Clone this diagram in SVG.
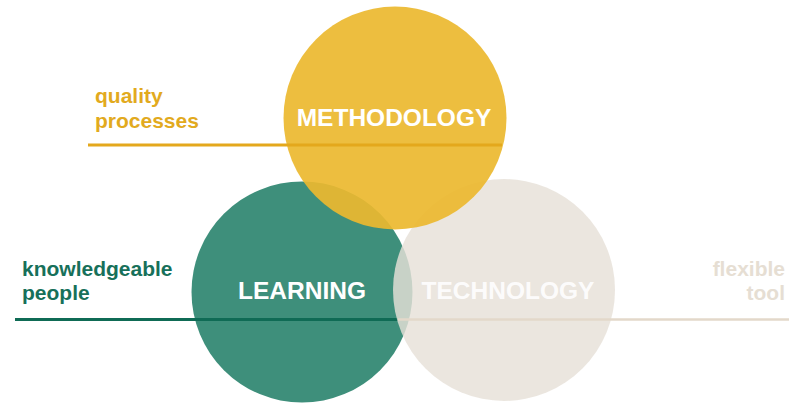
<svg xmlns="http://www.w3.org/2000/svg" width="789" height="403" viewBox="0 0 789 403">
<style>
.lbl{font-family:"Liberation Sans",Arial,sans-serif;font-weight:bold;font-size:21px}
.big{font-family:"Liberation Sans",Arial,sans-serif;font-weight:bold;font-size:24.5px;fill:#ffffff;text-anchor:middle}
</style>
<rect width="789" height="403" fill="#ffffff"/>
<g id="learning">
<circle cx="302" cy="292" r="110.5" fill="#3E8F7B"/>
<text class="big" x="302" y="299">LEARNING</text>
</g>
<g id="connectors">
<line x1="15" y1="319.5" x2="398" y2="319.5" stroke="#0F6B55" stroke-width="3"/>
</g>
<g id="technology">
<circle cx="504" cy="290" r="111" fill="#E6E0D8" fill-opacity="0.82"/>
<text class="big" x="508" y="299" fill-opacity="0.9">TECHNOLOGY</text>
</g>
<g id="connectors2">
<line x1="398" y1="319.5" x2="789" y2="319.5" stroke="#E3D8CA" stroke-width="2.5"/>
</g>
<g id="methodology">
<circle cx="395" cy="118" r="111.5" fill="#EBB92F" fill-opacity="0.92"/>
<line x1="88" y1="145" x2="502" y2="145" stroke="#E4A81C" stroke-width="3"/>
<text class="big" x="394" y="126">METHODOLOGY</text>
</g>
<g id="quality">
<text class="lbl" x="95" y="103" fill="#E2AA1E">quality</text>
<text class="lbl" x="95" y="128" fill="#E2AA1E">processes</text>
</g>
<g id="knowledgeable">
<text class="lbl" x="22" y="276" fill="#17705A">knowledgeable</text>
<text class="lbl" x="22" y="300" fill="#17705A">people</text>
</g>
<g id="flexible">
<text class="lbl" x="785" y="276" fill="#E6DED3" text-anchor="end">flexible</text>
<text class="lbl" x="785" y="300" fill="#E6DED3" text-anchor="end">tool</text>
</g>
</svg>
